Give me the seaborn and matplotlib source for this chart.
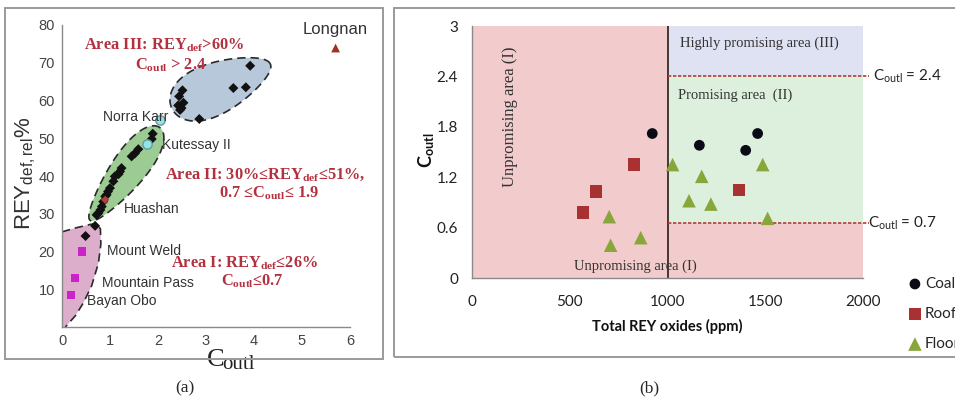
import numpy as np
import pandas as pd
import matplotlib
matplotlib.use("Agg")
import matplotlib.pyplot as plt
import seaborn as sns
from matplotlib.patches import Polygon, Rectangle

# ---------------- data: panel (a) ----------------
dep_x = [0.72, 0.76, 0.80, 0.83, 0.86, 0.90, 0.93, 0.96, 1.00, 1.07, 1.10, 1.18, 1.21, 1.24,
         1.45, 1.52, 1.59, 1.87, 1.89,
         2.42, 2.44, 2.46, 2.49, 2.51, 2.53, 2.86, 3.57, 3.83, 3.92,
         0.49, 0.69]
dep_y = [29.7, 30.2, 31.0, 31.9, 33.2, 34.6, 35.0, 35.9, 36.8, 38.6, 39.9, 40.5, 41.2, 42.1,
         45.2, 46.0, 47.1, 49.8, 51.2,
         58.7, 61.1, 57.5, 58.0, 62.7, 59.4, 55.1, 63.3, 63.5, 69.2,
         24.1, 26.8]
mag_x = [0.18, 0.27, 0.42]          # Bayan Obo, Mountain Pass, Mount Weld
mag_y = [8.5, 12.9, 20.0]
cyan_x = [1.78, 2.04]               # Kutessay II, Norra Karr
cyan_y = [48.5, 54.9]
long_x = [5.70]                     # Longnan
long_y = [73.9]
hua_x = [0.90]                      # Huashan
hua_y = [33.7]
a_xticks = [0, 1, 2, 3, 4, 5, 6]
a_yticks = [10, 20, 30, 40, 50, 60, 70, 80]

# ---------------- data: panel (b) ----------------
coal_x = [922, 1163, 1400, 1461]
coal_y = [1.72, 1.58, 1.52, 1.72]
roof_x = [569, 634, 830, 1367]
roof_y = [0.78, 1.03, 1.35, 1.05]
floor_x = [702, 709, 863, 1026, 1110, 1175, 1222, 1487, 1512]
floor_y = [0.73, 0.39, 0.48, 1.35, 0.92, 1.21, 0.88, 1.35, 0.71]
b_xticks = [0, 500, 1000, 1500, 2000]
b_yticks = [0, 0.6, 1.2, 1.8, 2.4, 3.0]
b_yticklabels = ["0", "0.6", "1.2", "1.8", "2.4", "3"]
thr_hi, thr_lo, thr_rey = 2.4, 0.65, 1000

sns.set_theme(style="white")
plt.rcParams["font.family"] = ["Liberation Sans", "DejaVu Sans"]
plt.rcParams["mathtext.fontset"] = "custom"
plt.rcParams["mathtext.rm"] = "Liberation Serif:bold"
plt.rcParams["mathtext.it"] = "Liberation Serif"
plt.rcParams["mathtext.sf"] = "Lato"
plt.rcParams["mathtext.bf"] = "Lato:bold"
plt.rcParams["mathtext.cal"] = "Liberation Sans"

W, H = 955, 407
fig = plt.figure(figsize=(W / 100, H / 100), dpi=100)

def fig_rect(x0, y0, x1, y1):
    return [x0 / W, 1 - y1 / H, (x1 - x0) / W, (y1 - y0) / H]

# panel frames
for (x0, y0, x1, y1) in [(5, 8, 383, 359), (394, 8, 957, 357)]:
    fig.patches.append(Rectangle((x0 / W, 1 - y1 / H), (x1 - x0) / W, (y1 - y0) / H,
                                 transform=fig.transFigure, fill=False,
                                 edgecolor="#9a9a9a", lw=1.4))

# ================= panel (a) =================
AL, AT, AR, AB = 62, 25, 350, 327
axa = fig.add_axes(fig_rect(AL, AT, AR, AB))
axa.set_xlim(0, 6)
axa.set_ylim(0, 80)
axa.patch.set_alpha(0)

def egg(cx, cy, a, b, ang, k, n=240):
    t = np.linspace(0, 2 * np.pi, n)
    u = a * np.cos(t)
    v = b * np.sin(t) * (1 + k * np.cos(t))
    r = np.deg2rad(ang)
    X = cx + u * np.cos(r) - v * np.sin(r)
    Y = cy + u * np.sin(r) + v * np.cos(r)
    # pixel (y up) -> axes fraction
    return np.column_stack([(X - AL) / (AR - AL), (Y - (H - AB)) / (AB - AT)])

dash = (0, (5, 3))
# Area II (green)
v2 = egg(125, 233, 58, 17, 53.1, 0.3)
axa.add_patch(Polygon(v2, closed=True, transform=axa.transAxes, facecolor="#9ccc94",
                      edgecolor="#2a2a2a", lw=1.2, linestyle=dash, zorder=1))
# Area III (blue)
v3 = egg(221, 321, 54, 25, 24, -0.3)
axa.add_patch(Polygon(v3, closed=True, transform=axa.transAxes, facecolor="#b6c8da",
                      edgecolor="#2a2a2a", lw=1.2, linestyle=dash, zorder=1))
# Area I (pink)
p1x = [0.0, 0.3, 0.6, 0.72, 0.80, 0.81, 0.76, 0.62, 0.45, 0.28, 0.14, 0.07, 0.0]
p1y = [25.2, 26.3, 27.2, 27.4, 26.0, 22.0, 17.0, 11.0, 6.5, 3.0, 1.0, 0.0, 0.0]
axa.add_patch(Polygon(np.column_stack([p1x, p1y]), closed=True, facecolor="#dcaecb",
                      edgecolor="none", zorder=1))
axa.plot(p1x[:-1], p1y[:-1], color="#2a2a2a", lw=1.2, linestyle=dash, zorder=2)

sns.scatterplot(x=dep_x, y=dep_y, marker="D", s=26, color="#111111", edgecolor="none",
                ax=axa, zorder=3, legend=False)
sns.scatterplot(x=hua_x, y=hua_y, marker="D", s=18, color="#b04040", edgecolor="none",
                ax=axa, zorder=4, legend=False)
sns.scatterplot(x=mag_x, y=mag_y, marker="s", s=34, color="#cc22cc", edgecolor="none",
                ax=axa, zorder=3, legend=False)
sns.scatterplot(x=cyan_x, y=cyan_y, marker="o", s=45, color="#8ee6e6", edgecolor="#6a9a9a",
                linewidth=1.0, ax=axa, zorder=3, legend=False)
sns.scatterplot(x=long_x, y=long_y, marker="^", s=40, color="#a0321e", edgecolor="none",
                ax=axa, zorder=3, legend=False)

for s in ["top", "right"]:
    axa.spines[s].set_visible(False)
for s in ["left", "bottom"]:
    axa.spines[s].set_color("#8a8a8a")
    axa.spines[s].set_linewidth(1.0)
axa.set_xticks(a_xticks)
axa.set_yticks(a_yticks)
axa.tick_params(axis="both", direction="out", length=3, width=0.8, color="#8a8a8a",
                labelsize=10.5, labelcolor="#444444", pad=2)
# x label "C outl" (serif, C large, "outl" slightly lowered)
axa.text(0.535, -0.072, "C", transform=axa.transAxes, ha="center", va="top",
         fontsize=19, family=["Liberation Serif"], color="#222222")
axa.text(0.558, -0.094, "outl", transform=axa.transAxes, ha="left", va="top",
         fontsize=15, family=["Liberation Serif"], color="#222222")
axa.set_ylabel(r"REY$_{\mathcal{def,rel}}$%", fontsize=16, color="#333333")
axa.yaxis.set_label_coords(-0.088, 0.51)

red = "#b3303e"
serif = ["Liberation Serif", "DejaVu Serif"]
atxt = [
    (2.13, 74.7, r"Area III: REY$_{\mathrm{def}}$>60%"),
    (2.27, 69.3, r"C$_{\mathrm{outl}}$ > 2.4"),
    (4.23, 40.4, r"Area II: 30%≤REY$_{\mathrm{def}}$≤51%,"),
    (4.32, 35.5, r"0.7 ≤C$_{\mathrm{outl}}$≤ 1.9"),
    (3.80, 17.0, r"Area I: REY$_{\mathrm{def}}$≤26%"),
    (3.96, 12.0, r"C$_{\mathrm{outl}}$≤0.7"),
]
for x, y, t in atxt:
    axa.text(x, y, t, ha="center", va="center", fontsize=11.8, color=red,
             fontweight="bold", family=serif, zorder=5)

labels = [
    (5.02, 78.7, "Longnan", 12),
    (0.86, 55.6, "Norra Karr", 10),
    (2.08, 48.2, "Kutessay II", 10),
    (1.29, 31.3, "Huashan", 10),
    (0.93, 20.1, "Mount Weld", 10),
    (0.83, 11.7, "Mountain Pass", 10),
    (0.52, 7.0, "Bayan Obo", 10),
]
for x, y, t, fs in labels:
    axa.text(x, y, t, ha="left", va="center", fontsize=fs, color="#333333", zorder=5)

# ================= panel (b) =================
BL, BT, BR, BB = 472, 26, 863, 278
axb = fig.add_axes(fig_rect(BL, BT, BR, BB))
axb.set_xlim(0, 2000)
axb.set_ylim(0, 3)

pink, green, blue = "#f2cccc", "#dcf0dd", "#dfe2f3"
axb.add_patch(Rectangle((0, 0), thr_rey, 3, facecolor=pink, edgecolor="none", zorder=0))
axb.add_patch(Rectangle((thr_rey, 0), 2000 - thr_rey, thr_lo, facecolor=pink,
                        edgecolor="none", zorder=0))
axb.add_patch(Rectangle((thr_rey, thr_lo), 2000 - thr_rey, thr_hi - thr_lo, facecolor=green,
                        edgecolor="none", zorder=0))
axb.add_patch(Rectangle((thr_rey, thr_hi), 2000 - thr_rey, 3 - thr_hi, facecolor=blue,
                        edgecolor="none", zorder=0))
axb.plot([thr_rey, thr_rey], [0, 3], color="#3a2a2a", lw=1.3, zorder=1)
for yv in [thr_hi, thr_lo]:
    axb.plot([thr_rey, 2030], [yv, yv], color="#b83a3a", lw=1.2, linestyle=(0, (2, 1)),
             zorder=1, clip_on=False)

sns.scatterplot(x=coal_x, y=coal_y, marker="o", s=60, color="#0b0b16", edgecolor="none",
                ax=axb, zorder=3, label="Coal")
sns.scatterplot(x=roof_x, y=roof_y, marker="s", s=80, color="#a83232", edgecolor="none",
                ax=axb, zorder=3, label="Roof")
sns.scatterplot(x=floor_x, y=floor_y, marker="^", s=95, color="#88a63a", edgecolor="none",
                ax=axb, zorder=3, label="Floor")
handles, labs = axb.get_legend_handles_labels()
axb.legend_.remove()
fig.legend(handles, labs, loc="upper left", bbox_to_anchor=(905 / W, 1 - 277 / H),
           frameon=False, prop={"family": "Lato", "size": 11}, labelspacing=1.05,
           handletextpad=0.0, handlelength=1.3, borderpad=0, borderaxespad=0)

axb.set_xticks(b_xticks)
axb.set_yticks(b_yticks)
axb.set_yticklabels(b_yticklabels)
for s in ["top", "right"]:
    axb.spines[s].set_visible(False)
for s in ["left", "bottom"]:
    axb.spines[s].set_color("#8a8a8a")
    axb.spines[s].set_linewidth(1.0)
axb.tick_params(axis="y", direction="out", length=5, width=0.9, color="#8a8a8a",
                labelsize=11, labelcolor="#222222", pad=5)
axb.tick_params(axis="x", direction="in", length=5, width=0.9, color="#8a8a8a",
                labelsize=11, labelcolor="#222222", pad=12)
for lab in axb.get_xticklabels() + axb.get_yticklabels():
    lab.set_family("Lato")
axb.set_xlabel("Total REY oxides (ppm)", fontsize=10.5, fontweight="bold", family="Lato",
               color="#111111")
axb.xaxis.set_label_coords(0.499, -0.163)
axb.set_ylabel(r"$\mathbf{C}_{\mathbf{outl}}$", fontsize=13, color="#111111")
axb.yaxis.set_label_coords(-0.09, 0.508)

axb.text(1064, 2.80, "Highly promising area (III)", ha="left", va="center", fontsize=10.5,
         family=serif, color="#333333")
axb.text(1054, 2.17, "Promising area  (II)", ha="left", va="center", fontsize=10.5,
         family=serif, color="#333333")
axb.text(194, 1.92, "Unpromising area (I)", ha="center", va="center", fontsize=12,
         family=serif, color="#333333", rotation=90)
axb.text(522, 0.14, "Unpromising area (I)", ha="left", va="center", fontsize=10.5,
         family=serif, color="#333333")
axb.text(2051, thr_hi, r"$\mathsf{C}_{\mathsf{outl}}$ = 2.4", ha="left", va="center",
         fontsize=11, family="Lato", color="#222222", clip_on=False)
axb.text(2026, thr_lo, r"$\mathsf{C}_{\mathsf{outl}}$ = 0.7", ha="left", va="center",
         fontsize=11, family="Lato", color="#222222", clip_on=False)

# panel captions
fig.text(185 / W, 1 - 388 / H, "(a)", ha="center", va="center", fontsize=12.5, family=serif)
fig.text(649 / W, 1 - 388 / H, "(b)", ha="center", va="center", fontsize=12.5, family=serif)

fig.savefig("out.png", dpi=100)
